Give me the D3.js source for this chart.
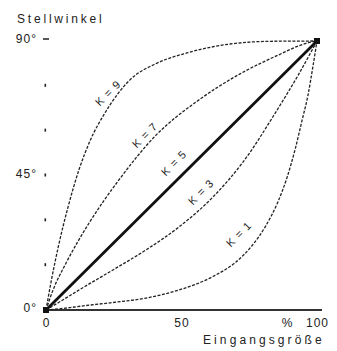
<!DOCTYPE html>
<html>
<head>
<meta charset="utf-8">
<script src="https://cdn.jsdelivr.net/npm/d3@7"></script>
<style>
  body { margin: 0; background: #fff; }
  text { font-family: "Liberation Sans", Arial, sans-serif; fill: #222; }
</style>
</head>
<body>
<div id="chart"></div>
<script>
let width = 337;
let height = 351;

// curves, [input %, angle deg]
let k9 = [[0, 0], [2, 10], [4.5, 21], [8, 34], [12.2, 47], [16.2, 56.5], [21.8, 66], [31, 77], [41, 82.6], [52, 86], [68, 89], [83, 89.9], [100, 90]];
let k7 = [[0, 0], [2.6, 6.7], [7.4, 15.7], [15.9, 29.1], [26.9, 43.5], [40.6, 58.5], [56, 70], [71.6, 79], [85, 85], [96.3, 89.3], [100, 90]];
let k5 = [[0, 0], [100, 90]];
let k3 = [[0, 0], [4.8, 2.6], [12.2, 6.7], [24.7, 13.4], [36.9, 20.1], [49.1, 27.8], [61.6, 37.8], [72.7, 49.5], [85, 66.5], [93, 78.5], [100, 90]];
let k1 = [[0, 0], [7, 0.6], [14.8, 1.5], [24.7, 2.5], [36.9, 4], [49.1, 6.7], [61.6, 11.2], [70, 16], [76, 21.5], [81, 28], [85.5, 36], [89, 44.5], [92, 54], [94.5, 63.5], [96.7, 72], [98.5, 81.5], [100, 90]];

let curveNames = ["K = 9", "K = 7", "K = 5", "K = 3", "K = 1"];
// where each label sits (data units)
let labelX = [22.9, 36.5, 47.2, 57.2, 71.2];
let labelY = [72.6, 58.5, 49.2, 39.5, 25.4];

let yTicks = [0, 15, 30, 45, 60, 75, 90];
let yLabels = {0: "0°", 45: "45°", 90: "90°"};
let xTicks = [0, 50, 100];

let x = d3.scaleLinear().domain([0, 100]).range([46, 317]);
let y = d3.scaleLinear().domain([0, 90]).range([310, 41]);

let svg = d3.select("#chart")
    .append("svg")
    .attr("width", width)
    .attr("height", height);

// y title
svg.append("text")
    .attr("x", 17)
    .attr("y", 23)
    .style("font-size", "12px")
    .style("letter-spacing", "2.8px")
    .text("Stellwinkel");

// y axis: just little marks, no line
yTicks.forEach(function (t) {
    if (t == 90) {
        svg.append("line")
            .attr("x1", 43).attr("x2", 49)
            .attr("y1", y(t) - 2).attr("y2", y(t) - 2)
            .attr("stroke", "#222").attr("stroke-width", 1.5);
    } else if (t != 0) {
        svg.append("rect")
            .attr("x", 44.5).attr("y", y(t) - 2)
            .attr("width", 1.6).attr("height", 3)
            .attr("fill", "#222");
    }
    if (yLabels[t]) {
        svg.append("text")
            .attr("x", 37)
            .attr("y", y(t) - 2)
            .attr("dy", "0.35em")
            .attr("text-anchor", "end")
            .style("font-size", "12px")
            .style("letter-spacing", "1px")
            .text(yLabels[t]);
    }
});

// x axis
let xAxis = svg.append("g")
    .attr("transform", "translate(0," + y(0) + ")")
    .call(d3.axisBottom(x).tickValues(xTicks).tickSize(0).tickPadding(8.5));
xAxis.select(".domain").remove();
xAxis.selectAll("text")
    .style("font-family", "'Liberation Sans', Arial, sans-serif")
    .style("font-size", "12px")
    .style("letter-spacing", "1px")
    .attr("fill", "#222");

svg.append("line")
    .attr("x1", x(0) - 2).attr("x2", x(100) + 5)
    .attr("y1", y(0)).attr("y2", y(0))
    .attr("stroke", "#333").attr("stroke-width", 2);

svg.append("text")
    .attr("x", x(100) - 30)
    .attr("y", y(0) + 17)
    .attr("text-anchor", "middle")
    .style("font-size", "12px")
    .text("%");

svg.append("text")
    .attr("x", 203)
    .attr("y", 344)
    .style("font-size", "12px")
    .style("letter-spacing", "3.1px")
    .text("Eingangsgröße");

// curves
let line = d3.line()
    .x(d => x(d[0]))
    .y(d => y(d[1]))
    .curve(d3.curveMonotoneX);

[k9, k7, k5, k3, k1].forEach(function (data, i) {
    let thick = i == 2;
    svg.append("path")
        .datum(data)
        .attr("d", line)
        .attr("fill", "none")
        .attr("stroke", thick ? "#111" : "#222")
        .attr("stroke-width", thick ? 2.8 : 1.3)
        .attr("stroke-dasharray", thick ? null : "3,1.5");
});

// the knots where all curves meet
[[0, 0], [100, 90]].forEach(function (p) {
    svg.append("rect")
        .attr("x", x(p[0]) - 3).attr("y", y(p[1]) - 3)
        .attr("width", 6).attr("height", 6)
        .attr("fill", "#111");
});

curveNames.forEach(function (name, i) {
    svg.append("text")
        .attr("transform", "translate(" + x(labelX[i]) + "," + y(labelY[i]) + ") rotate(-45)")
        .attr("text-anchor", "middle")
        .attr("dy", "0.35em")
        .style("font-size", "11px")
        .style("letter-spacing", "1px")
        .text(name);
});
</script>
</body>
</html>
